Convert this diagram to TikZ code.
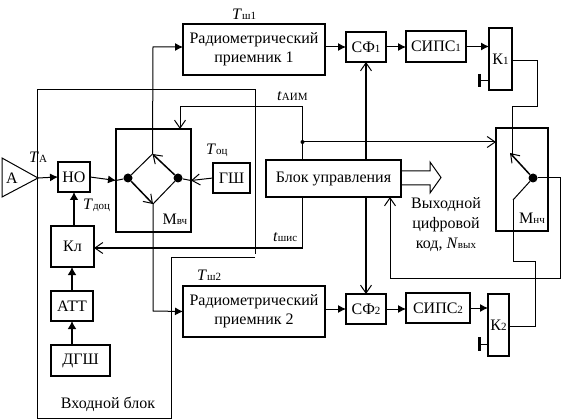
\documentclass[tikz,border=0pt]{standalone}
\usepackage{fontspec}
\setmainfont{Liberation Serif}
\usetikzlibrary{arrows.meta,calc}
\tikzset{
  x=1pt,y=-1pt,
  bx/.style={draw,line width=2pt,inner sep=0pt,outer sep=0pt,align=center,font=\fontsize{16}{19}\selectfont},
  wire/.style={line width=1pt},
  heavy wire/.style={line width=1.5pt},
  thick wire/.style={line width=2.2pt},
  fa/.style={-{Latex[length=8pt,width=8pt]}},
  oa/.style={-{Straight Barb[length=8pt,width=11pt,line width=1pt]}},
  lab/.style={inner sep=0pt,font=\fontsize{16}{19}\selectfont},
  contact/.style={circle,fill,inner sep=0pt,minimum size=9pt},
}
\newcommand{\bxnode}[6]{%
  \pgfmathsetmacro{\bw}{#4-#2}\pgfmathsetmacro{\bh}{#5-#3}%
  \node[bx,minimum width=\bw pt,minimum height=\bh pt] (#1) at ({(#2+#4)/2},{(#3+#5)/2}) {#6};}
\newcommand{\sm}[1]{{\fontsize{11}{11}\selectfont #1}}
\begin{document}
\begin{tikzpicture}
\useasboundingbox (0,0) rectangle (561,419);
% input block border
\coordinate (ib1) at (37,418);
\coordinate (ib2) at (37,90);
\coordinate (ib3) at (255,90);
\coordinate (ib4) at (255,254);
\coordinate (ib5) at (255,257);
\coordinate (ib6) at (171,257);
\coordinate (ib7) at (171,418);
\draw[wire] (ib1)--(ib2)--(ib3)--(ib4);
\draw[wire] (ib5)--(ib6)--(ib7)--(ib1);
% boxes
\bxnode{no}{58}{162}{90}{192}{НО}
\bxnode{mv}{116}{129}{191}{232}{}
\bxnode{gsh}{213}{163}{250}{193}{ГШ}
\bxnode{kl}{51}{226}{94}{267}{Кл}
\bxnode{att}{51}{291}{93}{321}{АТТ}
\bxnode{dgsh}{51}{345}{110}{376}{ДГШ}
\bxnode{r1}{183}{24}{325}{75}{Радиометрический\\приемник 1}
\bxnode{r2}{183}{286}{325}{337}{Радиометрический\\приемник 2}
\bxnode{sf1}{346}{32}{386}{62}{СФ\sm{1}}
\bxnode{sf2}{346}{294}{386}{324}{СФ\sm{2}}
\bxnode{sips1}{406}{31}{466}{62}{СИПС\sm{1}}
\bxnode{sips2}{406}{293}{470}{323}{СИПС\sm{2}}
\bxnode{k1}{489}{28}{512}{90}{К\sm{1}}
\bxnode{k2}{488}{294}{509}{356}{К\sm{2}}
\bxnode{mn}{496}{128}{548}{231}{}
\bxnode{bu}{266}{160}{401}{197}{Блок управления}
% antenna
\node[lab] (a) at (12,178) {А};
\coordinate (at1) at (2,158);
\coordinate (at2) at (38,178);
\coordinate (at3) at (2,197);
\draw[wire,line join=miter] (at1)--(at2)--(at3)--cycle;
% inner labels
\node[lab] (lmv) at (175,219) {М\sm{вч}};
\node[lab] (lmn) at (532,218) {М\sm{нч}};
% HF switch
\node[contact] (d1) at (128,178) {};
\node[contact] (d2) at (178,178) {};
\coordinate (top) at (152.5,154);
\coordinate (bot) at (153,204);
\draw[wire] (d1)--(top);
\draw[heavy wire,oa] (d1)--(bot);
\draw[wire] (d2)--(bot);
\draw[heavy wire,oa] (d2)--(top);
% main chain
\draw[wire,fa] (at2)--(no.west);
\draw[wire,fa] (no.east)--(mv.west);
\draw[wire] (mv.west)--(d1);
\draw[wire] (mv.east)--(d2);
\draw[wire,oa] (gsh.west)--(mv.east);
\draw[thick wire,-{Latex[length=8pt,width=9pt]}] (kl.north -| no.south)--(no.south);
\draw[thick wire,-{Latex[length=8pt,width=9pt]}] (att.north)--(kl.south -| att.north);
\draw[thick wire,-{Latex[length=8pt,width=9pt]}] (att.south |- dgsh.north)--(att.south);
% to receivers
\draw[wire,fa] (top)--(153,47)--(r1.west |- 0,47);
\draw[wire,fa] (bot)--(153,311)--(r2.west);
% control lines
\coordinate (tj) at (302.5,142);
\fill (tj) circle (2pt);
\draw[wire] (bu.north -| tj)--(tj)--(302.5,107)--(180,107);
\draw[wire,oa] (180,107)--(mv.north -| 180,0);
\draw[wire,oa] (tj)--(tj -| mn.west);
\draw[wire,oa] (bu.south -| 302,0)--(302,248)--(kl.east |- 0,248);
\draw[thick wire,oa] (bu.north -| sf1.south)--(sf1.south);
\draw[thick wire,oa] (bu.south -| sf2.north)--(sf2.north);
% signal path
\draw[wire,fa] (r1.east |- sf1.west)--(sf1.west);
\draw[wire,fa] (r2.east |- sf2.west)--(sf2.west);
\draw[wire,fa] (sf1.east)--(sips1.west |- sf1.east);
\draw[wire,fa] (sf2.east)--(sips2.west |- sf2.east);
\draw[wire,fa] (sips1.east)--(k1.west |- sips1.east);
\draw[wire,fa] (sips2.east)--(k2.west |- sips2.east);
% grounds
\coordinate (g1) at (479,81);
\coordinate (g2) at (479,344);
\draw[wire] (k1.west |- g1)--(g1);
\draw[wire] (k2.west |- g2)--(g2);
\draw[line width=3pt] (479,74)--(479,87);
\draw[line width=3pt] (479,337)--(479,351);
% LF switch
\node[contact] (d3) at (533,178) {};
\coordinate (c1) at (510,153);
\coordinate (c2) at (513,200);
\draw[heavy wire,oa] (d3)--(c1);
\draw[wire] (d3)--(c2);
\draw[wire] (k1.east |- 0,61)--(537,61)--(537,107)--(512,107)--(512,155);
\draw[wire] (c2)--(513,261)--(535,261)--(535,326)--(k2.east |- 0,326);
\draw[wire,oa] (d3)--(560,178)--(560,278)--(390,278)--(390,197);
% fat output arrow
\coordinate (f1) at (401,171);
\coordinate (f2) at (430,171);
\coordinate (f3) at (430,162);
\coordinate (f4) at (441,177.5);
\coordinate (f5) at (430,193);
\coordinate (f6) at (430,185);
\coordinate (f7) at (401,185);
\draw[wire] (f1)--(f2)--(f3)--(f4)--(f5)--(f6)--(f7);
% labels
\node[lab,anchor=west] (tsh1) at (232,14) {\textit{T}\sm{ш1}};
\node[lab,anchor=west] (tsh2) at (197,275) {\textit{T}\sm{ш2}};
\node[lab,anchor=west] (ta) at (29,157) {\textit{T}\sm{А}};
\node[lab,anchor=west] (tdop) at (83,205) {\textit{T}\sm{доц}};
\node[lab,anchor=west] (top2) at (206,150) {\textit{T}\sm{оц}};
\node[lab,anchor=west] (taim) at (277,96) {\textit{t}\sm{АИМ}};
\node[lab,anchor=west] (tshis) at (273,237) {\textit{t}\sm{шис}};
\node[lab,align=center,font=\fontsize{16}{20}\selectfont] (out) at (446,225) {Выходной\\цифровой\\код, \textit{N}\sm{вых}};
\node[lab] (ibl) at (108,404) {Входной блок};
\end{tikzpicture}
\end{document}
